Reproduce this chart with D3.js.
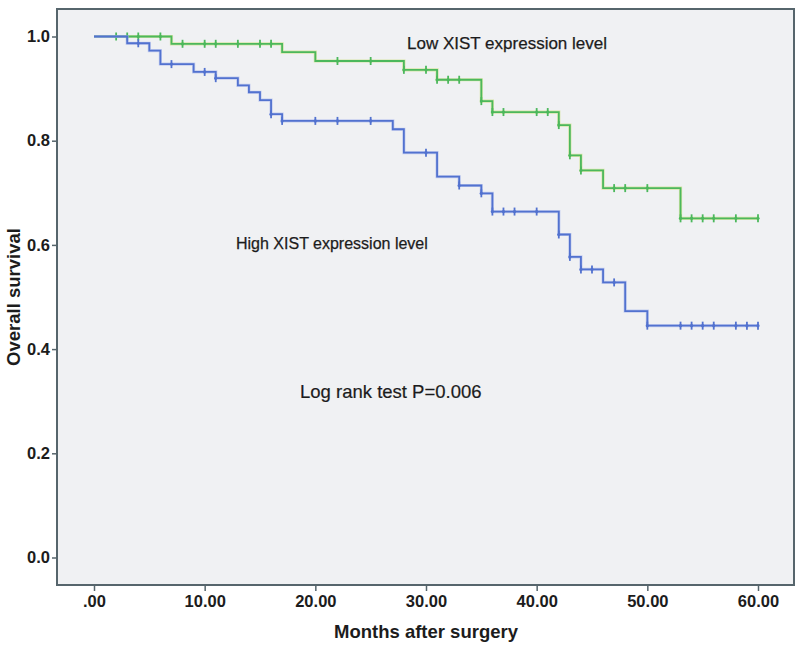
<!DOCTYPE html>
<html>
<head>
<meta charset="utf-8">
<script src="https://cdn.jsdelivr.net/npm/d3@7"></script>
<style>
  html, body { margin: 0; padding: 0; background: #ffffff; }
  svg { display: block; }
  text { font-family: Arial, "Liberation Sans", sans-serif; fill: #1c1c1c; }
</style>
</head>
<body>
<svg id="chart" width="800" height="650"></svg>
<script>
// ---- Data ----
const groupNames = ["Low XIST expression level", "High XIST expression level"];

// Kaplan-Meier step points: [month, survival]
const lowSteps = [[0,1.0],[7,0.986],[17,0.970],[20,0.953],[28,0.936],[31,0.917],[35,0.876],[36,0.855],[42,0.830],[43,0.772],[44,0.743],[46,0.709],[53,0.651]];
const lowCensored = [2,3,4,6,8,10,11,13,15,16,22,25,28,30,31,32,33,35,36,37,40,41,42,43,44,47,48,50,53,54,55,56,58,60];

const highSteps = [[0,1.0],[3,0.987],[5,0.973],[6,0.947],[9,0.932],[11,0.920],[13,0.906],[14,0.893],[15,0.878],[16,0.851],[17,0.838],[27,0.822],[28,0.777],[31,0.731],[33,0.714],[35,0.699],[36,0.664],[42,0.620],[43,0.577],[44,0.553],[46,0.528],[48,0.473],[50,0.445]];
const highCensored = [4,7,10,11,16,17,20,22,25,30,33,35,36,37,38,40,42,43,44,45,47,50,53,54,55,56,58,59,60];

const followUpEnd = 60;
const xTicks = [0,10,20,30,40,50,60];
const yTicks = [0,0.2,0.4,0.6,0.8,1.0];
const xTitle = "Months after surgery";
const yTitle = "Overall survival";
const testLabel = "Log rank test P=0.006";

// ---- Layout ----
const svg = d3.select("#chart");
const x = d3.scaleLinear().domain([0, 60]).range([94, 758]);
const y = d3.scaleLinear().domain([0, 1]).range([557.5, 36.5]);
const box = { x0: 57, x1: 794, y0: 9, y1: 585 };

// plot background
svg.append("rect")
  .attr("x", box.x0).attr("y", box.y0)
  .attr("width", box.x1 - box.x0).attr("height", box.y1 - box.y0)
  .attr("fill", "#f0f1f3");

// axes
const axisColor = "#56656c";
const yAxis = svg.append("g").attr("transform", `translate(${box.x0},0)`)
  .call(d3.axisLeft(y).tickValues(yTicks).tickFormat(d3.format(".1f")).tickSize(5).tickPadding(2));
const xAxis = svg.append("g").attr("transform", `translate(0,${box.y1})`)
  .call(d3.axisBottom(x).tickValues(xTicks)
    .tickFormat(d => d === 0 ? ".00" : d.toFixed(2)).tickSize(6).tickPadding(4));
[xAxis, yAxis].forEach(g => {
  g.select(".domain").remove();
  g.selectAll(".tick line").attr("stroke", axisColor).attr("stroke-width", 1.5);
  g.selectAll(".tick text").attr("fill", "#1c1c1c")
    .style("font-size", "16.5px").style("font-weight", "bold")
    .style("font-family", "Arial, 'Liberation Sans', sans-serif");
});

// box frame
svg.append("rect")
  .attr("x", box.x0).attr("y", box.y0)
  .attr("width", box.x1 - box.x0).attr("height", box.y1 - box.y0)
  .attr("fill", "none").attr("stroke", axisColor).attr("stroke-width", 2);

// titles
svg.append("text")
  .attr("x", 426).attr("y", 638).attr("text-anchor", "middle")
  .style("font-size", "18.5px").style("font-weight", "bold").text(xTitle);
svg.append("text")
  .attr("transform", `translate(20,297) rotate(-90)`).attr("text-anchor", "middle")
  .style("font-size", "18.5px").style("font-weight", "bold").text(yTitle);

// curves
function survAt(steps, t) {
  let s = steps[0][1];
  for (const [tt, ss] of steps) { if (tt <= t) s = ss; }
  return s;
}
const line = d3.line().x(d => x(d[0])).y(d => y(d[1])).curve(d3.curveStepAfter);

const groups = [
  { steps: lowSteps, cens: lowCensored, color: "#4cb85c", halo: "#c9e07a" },
  { steps: highSteps, cens: highCensored, color: "#5272cf", halo: "#a9b7ec" }
];
groups.forEach(g => {
  const pts = g.steps.concat([[followUpEnd, g.steps[g.steps.length - 1][1]]]);
  svg.append("path").datum(pts).attr("d", line)
    .attr("fill", "none").attr("stroke", g.halo).attr("stroke-width", 3.2).attr("opacity", 0.6);
  svg.append("path").datum(pts).attr("d", line)
    .attr("fill", "none").attr("stroke", g.color).attr("stroke-width", 1.8);
  svg.append("g").selectAll("line").data(g.cens).join("line")
    .attr("x1", d => x(d)).attr("x2", d => x(d))
    .attr("y1", d => y(survAt(g.steps, d)) - 4)
    .attr("y2", d => y(survAt(g.steps, d)) + 4)
    .attr("stroke", g.color).attr("stroke-width", 1.8);
  svg.append("g").selectAll("circle").data(g.cens).join("circle")
    .attr("cx", d => x(d)).attr("cy", d => y(survAt(g.steps, d)))
    .attr("r", 1.6).attr("fill", g.color);
});

// annotations
svg.append("text").attr("x", 407).attr("y", 48.5)
  .style("font-size", "17px").style("stroke", "#1c1c1c").style("stroke-width", 0.25).text(groupNames[0]);
svg.append("text").attr("x", 236).attr("y", 248.5)
  .style("font-size", "16px").style("stroke", "#1c1c1c").style("stroke-width", 0.25).text(groupNames[1]);
svg.append("text").attr("x", 300).attr("y", 398)
  .style("font-size", "18.5px").style("stroke", "#1c1c1c").style("stroke-width", 0.2).text(testLabel);
</script>
</body>
</html>
